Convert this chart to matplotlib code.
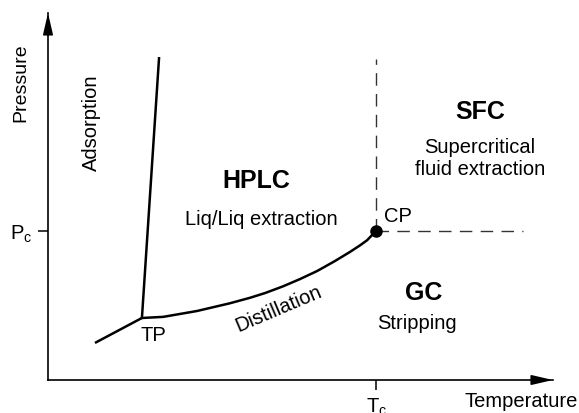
import matplotlib.pyplot as plt

plt.rcParams['font.family'] = ['Liberation Sans', 'DejaVu Sans']

# phase boundaries (temperature, pressure) in relative units
sub_T = [0.093, 0.186]
sub_P = [0.101, 0.169]

melt_T = [0.186, 0.220]
melt_P = [0.169, 0.880]

vap_T = [0.186, 0.228, 0.295, 0.360, 0.400, 0.430, 0.465, 0.499, 0.533,
         0.568, 0.598, 0.618, 0.632, 0.650]
vap_P = [0.169, 0.172, 0.188, 0.209, 0.224, 0.237, 0.255, 0.275, 0.297,
         0.324, 0.349, 0.367, 0.381, 0.407]

Tc = 0.650
Pc = 0.407
P_top = 0.875
T_right = 0.940

fig = plt.figure(figsize=(5.79, 4.14), dpi=100)
ax = fig.add_axes([48 / 579, 33 / 414, 505 / 579, 367 / 414])
ax.set_xlim(0, 1)
ax.set_ylim(0, 1)

for s in ['top', 'right']:
    ax.spines[s].set_visible(False)
ax.spines['left'].set_linewidth(1.2)
ax.spines['bottom'].set_linewidth(1.2)

# arrow heads on the axes
head = '-|>,head_length=1.3,head_width=0.3'
ax.annotate('', xy=(0, 1.0), xytext=(0, 0.94), xycoords='axes fraction',
            arrowprops=dict(arrowstyle=head, color='black', lw=1.2,
                            mutation_scale=10, shrinkA=0, shrinkB=0))
ax.annotate('', xy=(1.0, 0), xytext=(0.96, 0), xycoords='axes fraction',
            arrowprops=dict(arrowstyle=head, color='black', lw=1.2,
                            mutation_scale=10, shrinkA=0, shrinkB=0))

ax.set_xticks([Tc])
ax.set_xticklabels([r'$\mathregular{T_c}$'], fontsize=14.5)
ax.set_yticks([Pc])
ax.set_yticklabels([r'$\mathregular{P_c}$'], fontsize=14.5)
ax.tick_params(length=7, width=1.1, pad=4)

ax.text(-0.053, 0.812, 'Pressure', rotation=90, ha='center', va='center',
        fontsize=14, transform=ax.transAxes)
ax.text(0.937, -0.057, 'Temperature', ha='center', va='center',
        fontsize=14.5, transform=ax.transAxes, clip_on=False)

# curves
ax.plot(sub_T, sub_P, color='black', lw=1.8, solid_capstyle='butt')
ax.plot(melt_T, melt_P, color='black', lw=1.8, solid_capstyle='butt')
ax.plot(vap_T, vap_P, color='black', lw=1.8)
ax.plot([Tc, Tc], [Pc, P_top], color='#333333', lw=1.0, dashes=(9, 6))
ax.plot([Tc, T_right], [Pc, Pc], color='#333333', lw=1.0, dashes=(9, 6))
ax.plot([Tc], [Pc], 'o', color='black', markersize=8)

# labels
ax.text(0.087, 0.703, 'Adsorption', rotation=90, ha='center', va='center', fontsize=14.5)
ax.text(0.412, 0.545, 'HPLC', ha='center', va='center', fontsize=18, fontweight='bold')
ax.text(0.422, 0.439, 'Liq/Liq extraction', ha='center', va='center', fontsize=14.5)
ax.text(0.855, 0.733, 'SFC', ha='center', va='center', fontsize=18, fontweight='bold')
ax.text(0.855, 0.635, 'Supercritical', ha='center', va='center', fontsize=14.5)
ax.text(0.855, 0.575, 'fluid extraction', ha='center', va='center', fontsize=14.5)
ax.text(0.693, 0.447, 'CP', ha='center', va='center', fontsize=14.5)
ax.text(0.743, 0.240, 'GC', ha='center', va='center', fontsize=18, fontweight='bold')
ax.text(0.731, 0.158, 'Stripping', ha='center', va='center', fontsize=14.5)
ax.text(0.208, 0.123, 'TP', ha='center', va='center', fontsize=14.5)
ax.text(0.457, 0.196, 'Distillation', rotation=23, ha='center', va='center', fontsize=14.5)

fig.savefig('out.png', dpi=100)
